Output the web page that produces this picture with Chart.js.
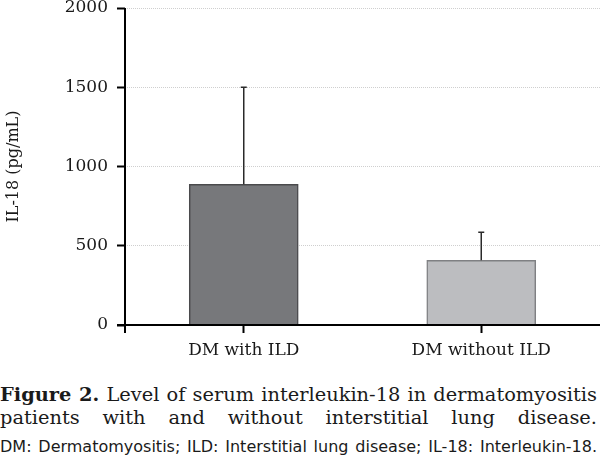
<!DOCTYPE html>
<html>
<head>
<meta charset="utf-8">
<script src="https://cdn.jsdelivr.net/npm/chart.js@4/dist/chart.umd.min.js"></script>
<style>
  html, body { margin: 0; padding: 0; background: #fff; width: 600px; height: 458px; overflow: hidden; }
  #wrap { position: relative; width: 600px; height: 370px; }
  .cap { position: absolute; left: 0; width: 597px; white-space: nowrap; color: #1a1a1a; text-align: justify; text-align-last: justify; }
  .l1, .l2 { font-family: "DejaVu Serif", serif; font-size: 19.4px; line-height: 23px; }
  .l1 { top: 383px; }
  .l2 { top: 406px; }
  .l3 { top: 436px; font-family: "DejaVu Sans", sans-serif; font-size: 16px; line-height: 21px; }
</style>
</head>
<body>
<div id="wrap"><canvas id="c" width="600" height="370"></canvas></div>
<div class="cap l1"><b>Figure 2.</b> Level of serum interleukin-18 in dermatomyositis</div>
<div class="cap l2">patients with and without interstitial lung disease.</div>
<div class="cap l3">DM: Dermatomyositis; ILD: Interstitial lung disease; IL-18: Interleukin-18.</div>
<script>
const categories = ["DM with ILD", "DM without ILD"];
const means = [888, 408];
const upperErrors = [1500, 585];
const yTicks = [0, 500, 1000, 1500, 2000];
const yTitle = "IL-18 (pg/mL)";

const errorBarPlugin = {
  id: 'errorBars',
  afterDatasetsDraw(chart) {
    const ctx = chart.ctx;
    const meta = chart.getDatasetMeta(0);
    const y = chart.scales.y;
    ctx.save();
    ctx.strokeStyle = '#2a2a2a';
    ctx.lineWidth = 1.5;
    meta.data.forEach((bar, i) => {
      const top = y.getPixelForValue(upperErrors[i]);
      ctx.beginPath();
      ctx.moveTo(bar.x, bar.y);
      ctx.lineTo(bar.x, top);
      ctx.moveTo(bar.x - 3, top);
      ctx.lineTo(bar.x + 3, top);
      ctx.stroke();
    });
    ctx.restore();
  }
};

const axesPlugin = {
  id: 'axesLines',
  afterDraw(chart) {
    const ctx = chart.ctx;
    const a = chart.chartArea;
    ctx.save();
    ctx.strokeStyle = '#000';
    ctx.lineWidth = 2;
    ctx.beginPath();
    ctx.moveTo(a.left, a.top);
    ctx.lineTo(a.left, a.bottom + 8);
    ctx.moveTo(a.left - 8, a.bottom);
    ctx.lineTo(chart.width, a.bottom);
    ctx.stroke();
    ctx.restore();
  }
};

new Chart(document.getElementById('c'), {
  type: 'bar',
  data: {
    labels: categories,
    datasets: [{
      data: means,
      backgroundColor: ['#77787b', '#bcbdc0'],
      borderColor: ['#4a4a4c', '#7f8083'],
      borderWidth: 1.5,
      barThickness: 109
    }]
  },
  options: {
    responsive: false,
    animation: false,
    events: [],
    layout: { padding: { top: 8, right: 0, bottom: 0, left: 0 } },
    plugins: { legend: { display: false }, tooltip: { enabled: false } },
    scales: {
      x: {
        afterFit(s) { s.height = 45; s.paddingLeft = 0; s.paddingRight = 0; },
        grid: { drawOnChartArea: false, drawTicks: true, tickLength: 8, tickColor: '#000', tickWidth: 2, offset: false },
        border: { display: false },
        ticks: { color: '#1a1a1a', padding: 7, font: { family: 'DejaVu Serif', size: 17 } }
      },
      y: {
        min: 0, max: 2000,
        afterFit(s) { s.width = 125; s.paddingTop = 0; s.paddingBottom = 0; },
        afterBuildTicks(s) { s.ticks = yTicks.map(v => ({ value: v })); },
        grid: { color: '#cfcfcf', lineWidth: 1, drawTicks: true, tickLength: 8, tickColor: '#000', tickWidth: 2 },
        border: { display: false, dash: [1, 1] },
        ticks: { color: '#1a1a1a', padding: 9, font: { family: 'DejaVu Serif', size: 17 }, callback: (v) => String(v) },
        title: { display: true, text: yTitle, color: '#1a1a1a', padding: { top: 4, bottom: 0 }, font: { family: 'DejaVu Serif', size: 16 } }
      }
    }
  },
  plugins: [errorBarPlugin, axesPlugin]
});
</script>
</body>
</html>
